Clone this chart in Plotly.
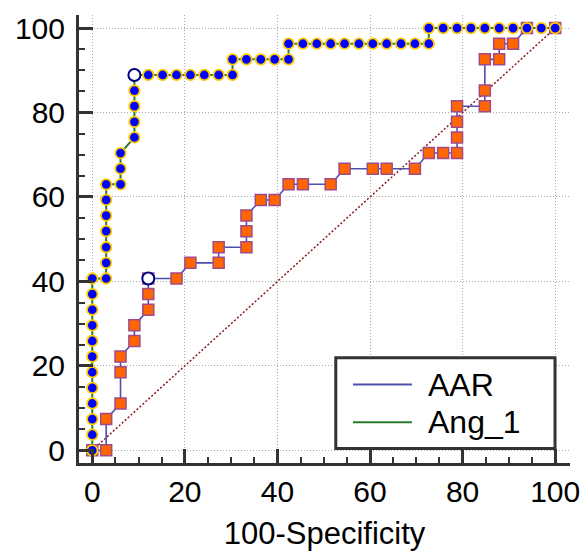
import plotly.graph_objects as go

# ---- data ----
aar_x = [0, 3.0, 3.0, 6.1, 6.1, 6.1, 9.1, 9.1, 12.1, 12.1, 12.1,
         18.2, 21.2, 27.3, 27.3, 33.3, 33.3, 33.3, 36.4, 39.4,
         42.4, 45.5, 51.5, 54.5, 60.6, 63.6, 69.7,
         72.7, 75.8, 78.8, 78.8, 78.8, 78.8, 84.8, 84.8,
         84.8, 87.9, 87.9, 90.9, 93.9, 100]
aar_y = [0, 0, 7.4, 11.1, 18.5, 22.2, 25.9, 29.6, 33.3, 37.0, 40.7,
         40.7, 44.4, 44.4, 48.1, 48.1, 51.9, 55.6, 59.3, 59.3,
         63.0, 63.0, 63.0, 66.7, 66.7, 66.7, 66.7,
         70.4, 70.4, 70.4, 74.1, 77.8, 81.5, 81.5, 85.2,
         92.6, 92.6, 96.3, 96.3, 100, 100]

ang_x = [0, 0, 0, 0, 0, 0, 0, 0, 0, 0, 0, 0,
         3.0, 3.0, 3.0, 3.0, 3.0, 3.0, 3.0,
         6.1, 6.1, 6.1,
         9.1, 9.1, 9.1, 9.1, 9.1,
         12.1, 15.2, 18.2, 21.2, 24.2, 27.3, 30.3,
         30.3, 33.3, 36.4, 39.4, 42.4,
         42.4, 45.5, 48.5, 51.5, 54.5, 57.6, 60.6, 63.6, 66.7, 69.7, 72.7,
         72.7, 75.8, 78.8, 81.8, 84.8, 87.9, 90.9, 93.9, 97.0, 100]
ang_y = [0, 3.7, 7.4, 11.1, 14.8, 18.5, 22.2, 25.9, 29.6, 33.3, 37.0, 40.7,
         40.7, 44.4, 48.1, 51.9, 55.6, 59.3, 63.0,
         63.0, 66.7, 70.4,
         74.1, 77.8, 81.5, 85.2, 88.9,
         88.9, 88.9, 88.9, 88.9, 88.9, 88.9, 88.9,
         92.6, 92.6, 92.6, 92.6, 92.6,
         96.3, 96.3, 96.3, 96.3, 96.3, 96.3, 96.3, 96.3, 96.3, 96.3, 96.3,
         100, 100, 100, 100, 100, 100, 100, 100, 100, 100]

# optimal criterion points (open circles)
crit_x = [12.1, 9.1]
crit_y = [40.7, 88.9]

diag_x = [0, 100]
diag_y = [0, 100]

tick_vals = [0, 20, 40, 60, 80, 100]
tick_text = ["0", "20", "40", "60", "80", "100"]
series_names = ["AAR", "Ang_1"]

FONT = "Liberation Sans, Arial, Helvetica, sans-serif"
AAR_LINE = "#4f4fae"
ANG_LINE = "#2a7a2a"

fig = go.Figure()
fig.add_trace(go.Scatter(x=diag_x, y=diag_y, mode="lines",
                         line=dict(color="#8b1a1a", width=1.5, dash="2px,2px"),
                         showlegend=False, hoverinfo="skip"))
fig.add_trace(go.Scatter(x=aar_x, y=aar_y, mode="lines+markers", name=series_names[0],
                         line=dict(color=AAR_LINE, width=1.6),
                         marker=dict(symbol="square", size=11, color="#ff6600",
                                     line=dict(color="#a14a8a", width=1.5)),
                         showlegend=False))
fig.add_trace(go.Scatter(x=ang_x, y=ang_y, mode="lines+markers", name=series_names[1],
                         line=dict(color=ANG_LINE, width=2),
                         marker=dict(symbol="circle", size=10.5, color="#0000ff",
                                     line=dict(color="#ffcc00", width=1.8)),
                         showlegend=False))
fig.add_trace(go.Scatter(x=crit_x, y=crit_y, mode="markers",
                         marker=dict(symbol="circle", size=12, color="white",
                                     line=dict(color="#000080", width=2)),
                         showlegend=False, hoverinfo="skip"))

axis_common = dict(
    showline=True, linecolor="#333333", linewidth=3,
    ticks="inside", ticklen=14, tickwidth=3, tickcolor="#333333",
    tickmode="array", tickvals=tick_vals, ticktext=tick_text,
    showgrid=True, gridcolor="#a8a8a8", gridwidth=1, griddash="1px,2px",
    zeroline=False, mirror=False, automargin=False,
    minor=dict(ticks="inside", ticklen=6, tickwidth=2, tickcolor="#333333",
               tick0=0, dtick=5, showgrid=False),
    tickfont=dict(family=FONT, size=30, color="black"),
)

fig.update_layout(
    width=585, height=551,
    margin=dict(l=79, r=15, t=15, b=87.5),
    paper_bgcolor="white", plot_bgcolor="white",
    showlegend=False,
    font=dict(family=FONT, color="black"),
    xaxis=dict(range=[-2.87, 103.2], ticklabelstandoff=0,
               title=dict(text="100-Specificity", font=dict(family=FONT, size=31, color="black"),
                          standoff=20),
               **axis_common),
    yaxis=dict(range=[-3.0, 103.1], ticklabelstandoff=5, **axis_common),
)

# manual legend box (paper coordinates)
bx0, bx1, by0, by1 = 0.523, 0.9695, 0.0323, 0.2352
fig.add_shape(type="rect", xref="paper", yref="paper", x0=bx0, x1=bx1, y0=by0, y1=by1,
              line=dict(color="#333333", width=3), fillcolor="white", layer="above")
leg_y = [0.175, 0.091]
leg_colors = [AAR_LINE, ANG_LINE]
for name, yy, col in zip(series_names, leg_y, leg_colors):
    fig.add_shape(type="line", xref="paper", yref="paper", x0=0.558, x1=0.678, y0=yy, y1=yy,
                  line=dict(color=col, width=2), layer="above")
    fig.add_annotation(xref="paper", yref="paper", x=0.706, y=yy, xanchor="left", yanchor="middle",
                       text=name, showarrow=False, font=dict(family=FONT, size=32, color="black"))

fig.write_html("out.html", config={"displayModeBar": False},
               post_script="document.body.style.margin='0';")
